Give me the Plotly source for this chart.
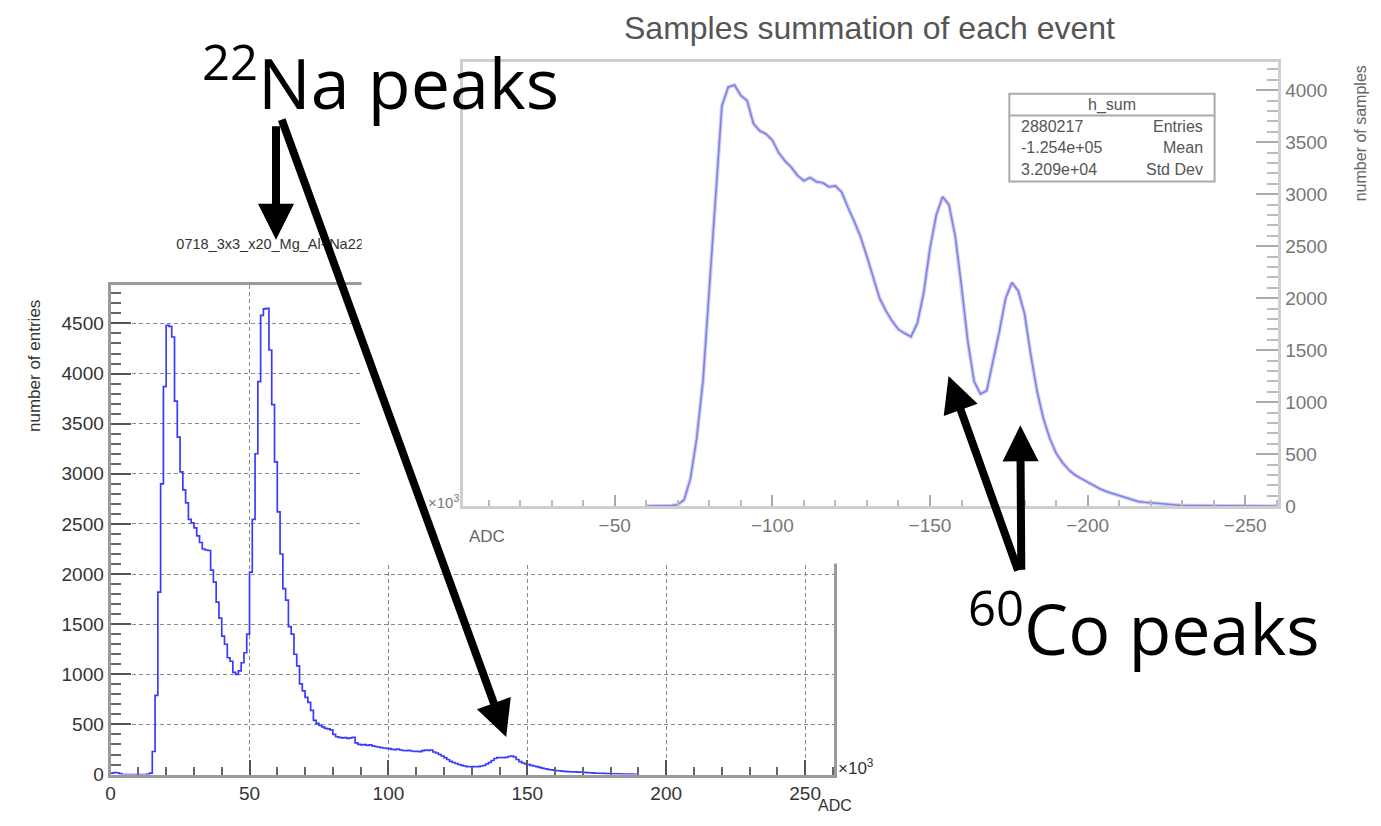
import plotly.graph_objects as go

W, H = 1381, 826

# ---------------- data ----------------
# foreground histogram (22Na): counts per 1x10^3 ADC bin, bins [i, i+1)
fg_counts = [
    15, 20, 18, 10, 0, 0, 0, 0, 0, 0,
    0, 0, 0, 5, 15, 230, 790, 1820, 2900, 3870,
    4480, 4470, 4365, 3725, 3365, 3020, 2840, 2710, 2545, 2510,
    2460, 2380, 2315, 2250, 2240, 2235, 2040, 1920, 1720, 1560,
    1380, 1300, 1165, 1130, 1020, 1000, 1035, 1115, 1215, 1400,
    2020, 2545, 3200, 3920, 4580, 4645, 4650, 4235, 3690, 3120,
    2620, 2200, 1855, 1740, 1475, 1400, 1200, 1085, 905, 835,
    770, 720, 640, 540, 510, 490, 475, 460, 455, 445,
    400, 377, 370, 365, 368, 360, 365, 372, 315, 300,
    295, 298, 290, 295, 285, 280, 275, 268, 265, 262,
    258, 252, 248, 255, 245, 240, 238, 242, 235, 230,
    232, 228, 238, 245, 242, 245, 225, 215, 200, 185,
    168, 150, 132, 120, 110, 100, 92, 85, 80, 78,
    80, 78, 80, 85, 90, 105, 120, 140, 160, 168,
    170, 168, 172, 180, 185, 175, 150, 128, 115, 105,
    100, 92, 85, 80, 72, 65, 58, 52, 48, 45,
    40, 38, 35, 32, 30, 28, 27, 26, 25, 24,
    22, 20, 18, 16, 15, 13, 12, 11, 10, 9,
    8, 7, 6, 6, 5, 5, 4, 4, 3, 2,
]
fg_edges = list(range(len(fg_counts) + 1))

# background histogram (60Co, mirrored picture): counts per 2x10^3 ADC bin, ADC = -60, -62, ...
bg_counts = [
    0, 0, 0, 0, 5, 15, 60, 260, 650, 1200,
    2050, 2970, 3850, 4030, 4050, 3950, 3900, 3680, 3610, 3580,
    3520, 3400, 3320, 3260, 3180, 3130, 3160, 3120, 3110, 3070,
    3080, 3020, 2870, 2740, 2590, 2400, 2200, 2000, 1880, 1780,
    1700, 1660, 1630, 1760, 2050, 2480, 2800, 2975, 2900, 2600,
    2120, 1585, 1200, 1080, 1110, 1380, 1680, 2000, 2150, 2070,
    1850, 1450, 1100, 840, 650, 510, 420, 350, 300, 265,
    230, 195, 165, 140, 120, 105, 80, 58, 45, 38,
    32, 25, 18, 12, 8, 6, 5, 4, 4, 3,
    3, 2, 2, 2, 1, 1, 1, 1, 0, 0, 0,
]
bg_adc = [-(60 + 2 * i) for i in range(len(bg_counts))]

fg_title = "0718_3x3_x20_Mg_Al+Na22"
bg_title = "Samples summation of each event"
stats_rows = [("Entries", "2880217"), ("Mean", "-1.254e+05"), ("Std Dev", "3.209e+04")]

# ---------------- helpers ----------------
def px(x):
    return x / W


def py(y):
    return 1 - y / H


FONT = "Liberation Sans"
CAPTION_FONT = "Open Sans"
FG_X = (106, 832)
FG_Y = (289, 785)
FG_XR = [0, 260.4]
FG_YR = [0, 4882]
TITLE_BOX = (106, 420, 236, 262)  # left, right, top, bottom (px)

fig = go.Figure()

# 1) foreground histogram (subplot xy)
fig.add_trace(go.Scatter(
    x=fg_edges, y=fg_counts + [fg_counts[-1]], mode="lines",
    line=dict(color="#3a3aff", width=1.7, shape="hv"),
    xaxis="x", yaxis="y", hoverinfo="skip", showlegend=False))

# 2) foreground title holder (subplot x2y2) - its end is hidden by the pasted picture
fig.add_trace(go.Scatter(
    x=[(172 - TITLE_BOX[0]) / (TITLE_BOX[1] - TITLE_BOX[0])], y=[0.5], mode="text", text=[fg_title],
    textposition="middle right", cliponaxis=False,
    textfont=dict(family=FONT, size=14.5, color="#333"),
    xaxis="x2", yaxis="y2", hoverinfo="skip", showlegend=False))

# 3) cover subplot (white edge of the pasted picture, x3y3)
fig.add_trace(go.Scatter(
    x=[0.5], y=[0.5], mode="markers", marker=dict(opacity=0),
    xaxis="x3", yaxis="y3", hoverinfo="skip", showlegend=False))

# 4) background (mirrored) histogram (x4y4)
fig.add_trace(go.Scatter(
    x=bg_adc, y=bg_counts, mode="lines",
    line=dict(color="rgba(150,150,235,0.45)", width=4),
    xaxis="x4", yaxis="y4", hoverinfo="skip", showlegend=False))
fig.add_trace(go.Scatter(
    x=bg_adc, y=bg_counts, mode="lines",
    line=dict(color="rgba(120,120,225,0.9)", width=1.6),
    xaxis="x4", yaxis="y4", hoverinfo="skip", showlegend=False))

grid = dict(showgrid=True, gridcolor="#8a8a8a", gridwidth=1, griddash="4px,3px")
fg_common = dict(
    showline=True, mirror=True, linecolor="#9a9a9a", linewidth=3,
    ticks="inside", tickcolor="#555", tickwidth=1.5, zeroline=False,
    tickfont=dict(family=FONT, size=19, color="#333"), fixedrange=True)

bg_common = dict(
    showline=True, mirror=True, linecolor="#cfcfcf", linewidth=3,
    ticks="inside", tickcolor="#aaa", tickwidth=1.5, zeroline=False, showgrid=False,
    tickfont=dict(family=FONT, size=19, color="#777"), fixedrange=True)

hidden = dict(visible=False, fixedrange=True, range=[0, 1])

fig.update_layout(
    width=W, height=H, margin=dict(l=0, r=0, t=0, b=0),
    paper_bgcolor="white", plot_bgcolor="white", showlegend=False,
    xaxis=dict(domain=[px(FG_X[0]), px(FG_X[1])], range=FG_XR, anchor="y",
               tick0=0, dtick=50, ticklen=15,
               minor=dict(dtick=10, ticks="inside", ticklen=8, tickcolor="#666", showgrid=False),
               **grid, **fg_common),
    yaxis=dict(domain=[py(FG_Y[1]), py(FG_Y[0])], range=FG_YR, anchor="x",
               tick0=0, dtick=500, ticklen=20,
               minor=dict(dtick=100, ticks="inside", ticklen=10, tickcolor="#666", showgrid=False),
               **grid, **fg_common),
    xaxis2=dict(domain=[px(TITLE_BOX[0]), px(TITLE_BOX[1])], anchor="y2", **hidden),
    yaxis2=dict(domain=[py(TITLE_BOX[3]), py(TITLE_BOX[2])], anchor="x2", **hidden),
    xaxis3=dict(domain=[px(358), 1], anchor="y3", **hidden),
    yaxis3=dict(domain=[py(571), 1], anchor="x3", **hidden),
    xaxis4=dict(domain=[px(460), px(1278)], range=[-2, -260.5], anchor="y4",
                tick0=0, dtick=50, ticklen=11,
                minor=dict(dtick=10, ticks="inside", ticklen=6, tickcolor="#bbb", showgrid=False),
                **bg_common),
    yaxis4=dict(domain=[py(513), py(63)], range=[0, 4270], anchor="x4", side="right",
                tick0=0, dtick=500, ticklen=22,
                minor=dict(dtick=100, ticks="inside", ticklen=11, tickcolor="#bbb", showgrid=False),
                **bg_common),
)

shapes = [
    dict(type="rect", xref="x3", yref="y3", x0=0, x1=1, y0=0, y1=1,
         fillcolor="white", line=dict(width=0), layer="below"),
    dict(type="rect", xref="paper", yref="paper", x0=px(1008), x1=px(1214), y0=py(184), y1=py(95),
         line=dict(color="#aaa", width=2), layer="above"),
    dict(type="line", xref="paper", yref="paper", x0=px(1008), x1=px(1214), y0=py(117), y1=py(117),
         line=dict(color="#aaa", width=2), layer="above"),
]
fig.update_layout(shapes=shapes)

ann = []


def text(t, x, y, size, color="#333", xanchor="center", yanchor="middle", angle=0, family=FONT):
    ann.append(dict(text=t, x=px(x), y=py(y), xref="paper", yref="paper", showarrow=False,
                    xanchor=xanchor, yanchor=yanchor, textangle=angle,
                    font=dict(family=family, size=size, color=color)))


# foreground labels
text("number of entries", 29, 371, 17, "#333", angle=-90)
text("ADC", 852, 816, 16, "#333", xanchor="right")
text("\u00d710<sup>3</sup>", 834, 777, 17, "#333", xanchor="left")

# background labels
text(bg_title, 868, 28, 32, "#555")
text("number of samples", 1360, 135, 16, "#666", angle=-90)
text("ADC", 484, 544, 17, "#666")
text("\u00d710<sup>3</sup>", 458, 508, 15, "#777", xanchor="right")

# stats box
text("h_sum", 1111, 106, 16, "#555")
for i, (lab, val) in enumerate(stats_rows):
    yy = [128, 149, 172][i]
    text(val, 1018, yy, 16, "#555", xanchor="left")
    text(lab, 1204, yy, 16, "#555", xanchor="right")

# big slide captions
text("<sup>22</sup>Na peaks", 377, 80, 70, "black", family=CAPTION_FONT)
text("<sup>60</sup>Co peaks", 1143, 633, 70, "black", family=CAPTION_FONT)


def arrow(tail, tip):
    ann.append(dict(text="", x=px(tip[0]), y=py(tip[1]), xref="paper", yref="paper",
                    ax=tail[0] - tip[0], ay=tail[1] - tip[1], showarrow=True,
                    arrowhead=2, arrowsize=0.9, arrowwidth=8, arrowcolor="black", standoff=0))


arrow((272, 128), (272, 243))
arrow((278, 128), (503, 747))
arrow((1017, 577), (947, 381))
arrow((1020, 577), (1019, 431))

fig.update_layout(annotations=ann)

fig.write_html("out.html")
